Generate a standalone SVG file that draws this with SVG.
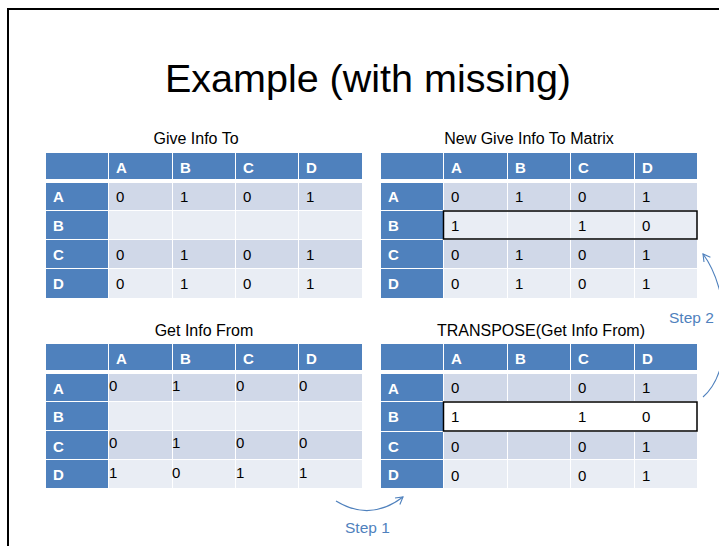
<svg xmlns="http://www.w3.org/2000/svg" width="719" height="546" viewBox="0 0 719 546">
<defs>
<style>
.hd{fill:#4F81BD}
.c1{fill:#D0D8E8}
.c2{fill:#E9EDF4}
.wh{fill:#FFFFFF}
.ht{font-family:"Liberation Sans",Arial,sans-serif;font-size:15px;font-weight:bold;fill:#FFFFFF}
.ct{font-family:"Liberation Sans",Arial,sans-serif;font-size:15px;fill:#000000}
.tt{font-family:"Liberation Sans",Arial,sans-serif;font-size:16px;fill:#000000;text-anchor:middle}
.hl{fill:none;stroke:#000000;stroke-width:1.5}
.st{font-family:"Liberation Sans",Arial,sans-serif;font-size:15.5px;fill:#4F81BD}
.cn{fill:none;stroke:#4F81BD;stroke-width:1.1}
</style>
<marker id="ah" markerWidth="10" markerHeight="10" refX="8" refY="5" orient="auto" markerUnits="userSpaceOnUse">
<path d="M1,1 L8,5 L1,9" fill="none" stroke="#4F81BD" stroke-width="1.1"/>
</marker>
</defs>
<rect width="719" height="546" fill="#FFFFFF"/>
<path d="M8,546 L8,9 L719,9" fill="none" stroke="#000000" stroke-width="2"/>
<text x="368" y="92" font-family="'Liberation Sans',Arial,sans-serif" font-size="39.5" text-anchor="middle" fill="#000000">Example (with missing)</text>

<g id="give-info-to">
<text class="tt" x="196" y="144">Give Info To</text>
<rect class="hd" x="46" y="153" width="62" height="26"/><rect class="hd" x="109" y="153" width="63" height="26"/><rect class="hd" x="173" y="153" width="62" height="26"/><rect class="hd" x="236" y="153" width="62" height="26"/><rect class="hd" x="299" y="153" width="63" height="26"/>
<rect class="hd" x="46" y="183" width="62" height="27"/><rect class="c1" x="109" y="183" width="63" height="27"/><rect class="c1" x="173" y="183" width="62" height="27"/><rect class="c1" x="236" y="183" width="62" height="27"/><rect class="c1" x="299" y="183" width="63" height="27"/>
<rect class="hd" x="46" y="211" width="62" height="28"/><rect class="c2" x="109" y="211" width="63" height="28"/><rect class="c2" x="173" y="211" width="62" height="28"/><rect class="c2" x="236" y="211" width="62" height="28"/><rect class="c2" x="299" y="211" width="63" height="28"/>
<rect class="hd" x="46" y="240" width="62" height="28"/><rect class="c1" x="109" y="240" width="63" height="28"/><rect class="c1" x="173" y="240" width="62" height="28"/><rect class="c1" x="236" y="240" width="62" height="28"/><rect class="c1" x="299" y="240" width="63" height="28"/>
<rect class="hd" x="46" y="269" width="62" height="29"/><rect class="c2" x="109" y="269" width="63" height="29"/><rect class="c2" x="173" y="269" width="62" height="29"/><rect class="c2" x="236" y="269" width="62" height="29"/><rect class="c2" x="299" y="269" width="63" height="29"/>
<text class="ht" x="116" y="173">A</text><text class="ht" x="180" y="173">B</text><text class="ht" x="243" y="173">C</text><text class="ht" x="306" y="173">D</text>
<text class="ht" x="53" y="202">A</text><text class="ht" x="53" y="231">B</text><text class="ht" x="53" y="260">C</text><text class="ht" x="53" y="289">D</text>
<text class="ct" x="116" y="202">0</text><text class="ct" x="180" y="202">1</text><text class="ct" x="243" y="202">0</text><text class="ct" x="306" y="202">1</text>
<text class="ct" x="116" y="260">0</text><text class="ct" x="180" y="260">1</text><text class="ct" x="243" y="260">0</text><text class="ct" x="306" y="260">1</text>
<text class="ct" x="116" y="289">0</text><text class="ct" x="180" y="289">1</text><text class="ct" x="243" y="289">0</text><text class="ct" x="306" y="289">1</text>
</g>

<g id="new-give-info-to-matrix">
<text class="tt" x="529" y="144">New Give Info To Matrix</text>
<rect class="hd" x="381" y="153" width="62" height="26"/><rect class="hd" x="444" y="153" width="63" height="26"/><rect class="hd" x="508" y="153" width="62" height="26"/><rect class="hd" x="571" y="153" width="63" height="26"/><rect class="hd" x="635" y="153" width="62" height="26"/>
<rect class="hd" x="381" y="183" width="62" height="27"/><rect class="c1" x="444" y="183" width="63" height="27"/><rect class="c1" x="508" y="183" width="62" height="27"/><rect class="c1" x="571" y="183" width="63" height="27"/><rect class="c1" x="635" y="183" width="62" height="27"/>
<rect class="hd" x="381" y="211" width="62" height="28"/><rect class="c2" x="444" y="211" width="63" height="28"/><rect class="c2" x="508" y="211" width="62" height="28"/><rect class="c2" x="571" y="211" width="63" height="28"/><rect class="c2" x="635" y="211" width="62" height="28"/>
<rect class="hd" x="381" y="240" width="62" height="28"/><rect class="c1" x="444" y="240" width="63" height="28"/><rect class="c1" x="508" y="240" width="62" height="28"/><rect class="c1" x="571" y="240" width="63" height="28"/><rect class="c1" x="635" y="240" width="62" height="28"/>
<rect class="hd" x="381" y="269" width="62" height="29"/><rect class="c2" x="444" y="269" width="63" height="29"/><rect class="c2" x="508" y="269" width="62" height="29"/><rect class="c2" x="571" y="269" width="63" height="29"/><rect class="c2" x="635" y="269" width="62" height="29"/>
<rect class="hl" x="443.5" y="211" width="253.5" height="28"/>
<text class="ht" x="451" y="173">A</text><text class="ht" x="515" y="173">B</text><text class="ht" x="578" y="173">C</text><text class="ht" x="642" y="173">D</text>
<text class="ht" x="388" y="202">A</text><text class="ht" x="388" y="231">B</text><text class="ht" x="388" y="260">C</text><text class="ht" x="388" y="289">D</text>
<text class="ct" x="451" y="202">0</text><text class="ct" x="515" y="202">1</text><text class="ct" x="578" y="202">0</text><text class="ct" x="642" y="202">1</text>
<text class="ct" x="451" y="231">1</text><text class="ct" x="578" y="231">1</text><text class="ct" x="642" y="231">0</text>
<text class="ct" x="451" y="260">0</text><text class="ct" x="515" y="260">1</text><text class="ct" x="578" y="260">0</text><text class="ct" x="642" y="260">1</text>
<text class="ct" x="451" y="289">0</text><text class="ct" x="515" y="289">1</text><text class="ct" x="578" y="289">0</text><text class="ct" x="642" y="289">1</text>
</g>

<g id="get-info-from">
<text class="tt" x="204" y="336">Get Info From</text>
<rect class="hd" x="46" y="344" width="62" height="26"/><rect class="hd" x="109" y="344" width="63" height="26"/><rect class="hd" x="173" y="344" width="62" height="26"/><rect class="hd" x="236" y="344" width="62" height="26"/><rect class="hd" x="299" y="344" width="63" height="26"/>
<rect class="hd" x="46" y="374" width="62" height="27"/><rect class="c1" x="109" y="374" width="63" height="27"/><rect class="c1" x="173" y="374" width="62" height="27"/><rect class="c1" x="236" y="374" width="62" height="27"/><rect class="c1" x="299" y="374" width="63" height="27"/>
<rect class="hd" x="46" y="402" width="62" height="28"/><rect class="c2" x="109" y="402" width="63" height="28"/><rect class="c2" x="173" y="402" width="62" height="28"/><rect class="c2" x="236" y="402" width="62" height="28"/><rect class="c2" x="299" y="402" width="63" height="28"/>
<rect class="hd" x="46" y="431" width="62" height="28"/><rect class="c1" x="109" y="431" width="63" height="28"/><rect class="c1" x="173" y="431" width="62" height="28"/><rect class="c1" x="236" y="431" width="62" height="28"/><rect class="c1" x="299" y="431" width="63" height="28"/>
<rect class="hd" x="46" y="460" width="62" height="28"/><rect class="c2" x="109" y="460" width="63" height="28"/><rect class="c2" x="173" y="460" width="62" height="28"/><rect class="c2" x="236" y="460" width="62" height="28"/><rect class="c2" x="299" y="460" width="63" height="28"/>
<text class="ht" x="116" y="364">A</text><text class="ht" x="180" y="364">B</text><text class="ht" x="243" y="364">C</text><text class="ht" x="306" y="364">D</text>
<text class="ht" x="53" y="394">A</text><text class="ht" x="53" y="422">B</text><text class="ht" x="53" y="452">C</text><text class="ht" x="53" y="480">D</text>
<text class="ct" x="109" y="391">0</text><text class="ct" x="172" y="391">1</text><text class="ct" x="236" y="391">0</text><text class="ct" x="299" y="391">0</text>
<text class="ct" x="109" y="448">0</text><text class="ct" x="172" y="448">1</text><text class="ct" x="236" y="448">0</text><text class="ct" x="299" y="448">0</text>
<text class="ct" x="109" y="478">1</text><text class="ct" x="172" y="478">0</text><text class="ct" x="236" y="478">1</text><text class="ct" x="299" y="478">1</text>
</g>

<g id="transpose-get-info-from">
<text class="tt" x="541" y="336">TRANSPOSE(Get Info From)</text>
<rect class="hd" x="381" y="344" width="62" height="26"/><rect class="hd" x="444" y="344" width="63" height="26"/><rect class="hd" x="508" y="344" width="62" height="26"/><rect class="hd" x="571" y="344" width="63" height="26"/><rect class="hd" x="635" y="344" width="62" height="26"/>
<rect class="hd" x="381" y="374" width="62" height="27"/><rect class="c1" x="444" y="374" width="63" height="27"/><rect class="c1" x="508" y="374" width="62" height="27"/><rect class="c1" x="571" y="374" width="63" height="27"/><rect class="c1" x="635" y="374" width="62" height="27"/>
<rect class="hd" x="381" y="402" width="62" height="29"/><rect class="wh" x="443" y="402" width="254" height="29"/>
<rect class="hd" x="381" y="432" width="62" height="27"/><rect class="c1" x="444" y="432" width="63" height="27"/><rect class="c1" x="508" y="432" width="62" height="27"/><rect class="c1" x="571" y="432" width="63" height="27"/><rect class="c1" x="635" y="432" width="62" height="27"/>
<rect class="hd" x="381" y="460" width="62" height="28"/><rect class="c2" x="444" y="460" width="63" height="28"/><rect class="c2" x="508" y="460" width="62" height="28"/><rect class="c2" x="571" y="460" width="63" height="28"/><rect class="c2" x="635" y="460" width="62" height="28"/>
<rect class="hl" x="443.5" y="402" width="253.5" height="29"/>
<text class="ht" x="451" y="364">A</text><text class="ht" x="515" y="364">B</text><text class="ht" x="578" y="364">C</text><text class="ht" x="642" y="364">D</text>
<text class="ht" x="388" y="394">A</text><text class="ht" x="388" y="422">B</text><text class="ht" x="388" y="452">C</text><text class="ht" x="388" y="480">D</text>
<text class="ct" x="451" y="393">0</text><text class="ct" x="578" y="393">0</text><text class="ct" x="642" y="393">1</text>
<text class="ct" x="451" y="422">1</text><text class="ct" x="578" y="422">1</text><text class="ct" x="642" y="422">0</text>
<text class="ct" x="451" y="452">0</text><text class="ct" x="578" y="452">0</text><text class="ct" x="642" y="452">1</text>
<text class="ct" x="451" y="481">0</text><text class="ct" x="578" y="481">0</text><text class="ct" x="642" y="481">1</text>
</g>

<g id="connectors">
<path class="cn" d="M336,501 Q370,522 403,497" marker-end="url(#ah)"/>
<text class="st" x="345" y="533">Step 1</text>
<path class="cn" d="M703,397 C735,370 730,290 703,254" marker-end="url(#ah)"/>
<text class="st" x="669" y="323">Step 2</text>
</g>
</svg>
